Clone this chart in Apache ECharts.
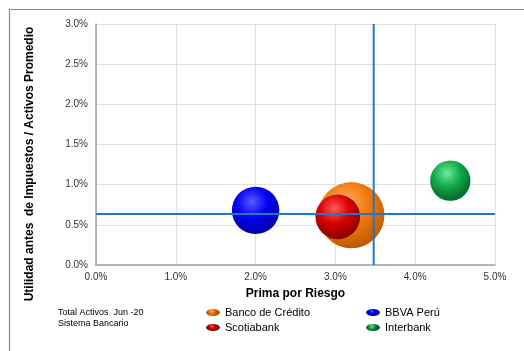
<!DOCTYPE html>
<html><head><meta charset="utf-8">
<script src="https://cdn.jsdelivr.net/npm/echarts@6/dist/echarts.min.js"></script>
<style>html,body{margin:0;padding:0;background:#fff;}#c{width:524px;height:351px;}</style>
</head><body><div id="c"></div>
<script>
// Data (percent values)
const banks = ['Banco de Crédito', 'BBVA Perú', 'Scotiabank', 'Interbank'];
const primaRiesgo = [3.20, 2.00, 3.03, 4.44];
const utilidad = [0.62, 0.68, 0.60, 1.05];
const totalActivos = [175, 90, 80, 65];
const avgPrima = 3.48;
const avgUtilidad = 0.635;
const xTicks = [0, 1, 2, 3, 4, 5];
const yTicks = [0, 0.5, 1, 1.5, 2, 2.5, 3];

const palettes = [
  ['#ffb060', '#f07a10', '#b85200'],
  ['#5a5aff', '#0000f0', '#00009a'],
  ['#ff5a5a', '#d80000', '#7a0000'],
  ['#6cf09a', '#12a84a', '#005a24']
];
function sphere(p) {
  return new echarts.graphic.RadialGradient(0.42, 0.32, 0.75, [
    {offset: 0, color: p[0]}, {offset: 0.45, color: p[1]}, {offset: 1, color: p[2]}
  ]);
}
const font = 'Liberation Sans, Arial, sans-serif';
const series = banks.map((b, i) => ({
  name: b, type: 'scatter',
  data: [[primaRiesgo[i], utilidad[i], totalActivos[i]]],
  symbolSize: v => Math.sqrt(v[2]) * 5,
  itemStyle: {color: sphere(palettes[i]), opacity: 1},
  z: 2
}));
series.push({
  type: 'line', name: 'hline', data: [[xTicks[0], avgUtilidad], [xTicks[xTicks.length-1], avgUtilidad]],
  symbol: 'none', lineStyle: {color: '#1f78c8', width: 2}, z: 5, silent: true
});
series.push({
  type: 'line', name: 'vline', data: [[avgPrima, yTicks[0]], [avgPrima, yTicks[yTicks.length-1]]],
  symbol: 'none', lineStyle: {color: '#1f78c8', width: 2}, z: 5, silent: true
});

const chart = echarts.init(document.getElementById('c'));
const ellipse = 'path://M0,5 A10,5 0 1,1 20,5 A10,5 0 1,1 0,5 Z';
chart.setOption({
  animation: false,
  backgroundColor: '#fff',
  grid: {left: 96, right: 29, top: 24, bottom: 86},
  xAxis: {
    type: 'value', min: 0, max: 5, interval: 1,
    name: 'Prima por Riesgo', nameLocation: 'middle', nameGap: 23,
    nameTextStyle: {fontFamily: font, fontSize: 12, fontWeight: 'bold', color: '#000'},
    axisLine: {show: true, lineStyle: {color: '#a0a0a0', width: 1.5}},
    axisTick: {show: false},
    axisLabel: {fontFamily: font, fontSize: 10, color: '#333', margin: 7, formatter: v => v.toFixed(1) + '%'},
    splitLine: {show: true, lineStyle: {color: '#e0e0e0', width: 1}}
  },
  yAxis: {
    type: 'value', min: 0, max: 3, interval: 0.5,
    axisLine: {show: true, lineStyle: {color: '#a0a0a0', width: 1.5}},
    axisTick: {show: false},
    axisLabel: {fontFamily: font, fontSize: 10, color: '#333', margin: 8, formatter: v => v.toFixed(1) + '%'},
    splitLine: {show: true, lineStyle: {color: '#e0e0e0', width: 1}}
  },
  legend: [
    {data: ['Banco de Crédito', 'Scotiabank'], orient: 'vertical', left: 201, top: 302,
     icon: ellipse, itemWidth: 14, itemHeight: 7, itemGap: 4,
     textStyle: {fontFamily: font, fontSize: 11, color: '#000'}},
    {data: ['BBVA Perú', 'Interbank'], orient: 'vertical', left: 361, top: 302,
     icon: ellipse, itemWidth: 14, itemHeight: 7, itemGap: 4,
     textStyle: {fontFamily: font, fontSize: 11, color: '#000'}}
  ],
  graphic: [
    {type: 'rect', left: 7, top: 7, z: -10, silent: true,
     shape: {width: 530, height: 360}, style: {fill: 'none', stroke: '#8a8a8a', lineWidth: 1.2}},
    {type: 'text', x: 30, y: 164, rotation: Math.PI / 2, silent: true,
     style: {text: 'Utilidad antes  de Impuestos / Activos Promedio', fontFamily: font, fontSize: 12,
             fontWeight: 'bold', fill: '#000', align: 'center', verticalAlign: 'middle'}},
    {type: 'text', left: 58, top: 307, silent: true,
     style: {text: 'Total Activos  Jun -20\nSistema Bancario', fontFamily: font, fontSize: 9,
             lineHeight: 11, fill: '#000'}}
  ],
  series: series
});
</script></body></html>
